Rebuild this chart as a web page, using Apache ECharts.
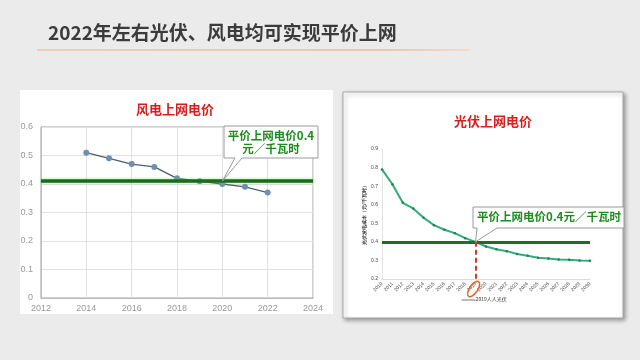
<!DOCTYPE html>
<html>
<head>
<meta charset="utf-8">
<script src="https://cdn.jsdelivr.net/npm/echarts@6/dist/echarts.min.js"></script>
<style>
  html, body { margin: 0; padding: 0; background: #ebebeb; }
  #main { width: 640px; height: 360px; }
</style>
</head>
<body>
<div id="main"></div>
<script>
// wind power on-grid price (left)
const windYears = [2014, 2015, 2016, 2017, 2018, 2019, 2020, 2021, 2022];
const windPrice = [0.51, 0.49, 0.47, 0.46, 0.42, 0.41, 0.40, 0.39, 0.37];
const windParity = 0.41;
const windXTicks = { min: 2012, max: 2024, step: 2 };
const windYTicks = { min: 0, max: 0.6, step: 0.1 };

// PV on-grid price (right)
const pvYears = ["2010", "2011", "2012", "2013", "2014", "2015", "2016", "2017", "2018", "2019", "2020",
  "2021", "2022", "2023", "2024", "2025", "2026", "2027", "2028", "2029", "2030"];
const pvPrice = [0.79, 0.71, 0.61, 0.58, 0.53, 0.49, 0.465, 0.447, 0.42, 0.40, 0.375,
  0.36, 0.35, 0.335, 0.325, 0.315, 0.31, 0.305, 0.303, 0.30, 0.298];
const pvParity = 0.4;
const pvParityYear = "2019";
const pvYTicks = { min: 0.2, max: 0.9, step: 0.1 };

const mainTitle = "2022年左右光伏、风电均可实现平价上网";
const windTitle = "风电上网电价";
const pvTitle = "光伏上网电价";
const pvAxisName = "光伏发电成本（元/千瓦时）";
const windNote = "平价上网电价0.4\n元／千瓦时";
const pvNote = "平价上网电价0.4元／千瓦时";
const pvMarkNote = "2019人人光伏";

const font = '"Noto Sans CJK SC", "Liberation Sans", sans-serif';
const chart = echarts.init(document.getElementById("main"));

const option = {
  backgroundColor: "#ebebeb",
  animation: false,
  title: [
    { text: mainTitle, left: 43, top: 18,
      textStyle: { fontFamily: font, fontSize: 19, fontWeight: "bold", color: "#3b3b3b" } },
    { text: windTitle, left: 170, top: 98, textAlign: "center",
      textStyle: { fontFamily: font, fontSize: 13, fontWeight: "bold", color: "#d81e1e" } },
    { text: pvTitle, left: 488, top: 110, textAlign: "center",
      textStyle: { fontFamily: font, fontSize: 13, fontWeight: "bold", color: "#d81e1e" } }
  ],
  grid: [
    { left: 41, right: 327, top: 127, bottom: 62, show: true, borderColor: "#9aa89a", borderWidth: 1 },
    { left: 382, right: 50, top: 149, bottom: 81 }
  ],
  xAxis: [
    { type: "value", gridIndex: 0, min: windXTicks.min, max: windXTicks.max, interval: windXTicks.step,
      axisLine: { lineStyle: { color: "#bbb" } }, axisTick: { show: false },
      axisLabel: { color: "#999", fontSize: 9, margin: 6, fontFamily: "Liberation Sans",
        formatter: (v) => String(v) },
      splitLine: { show: true, lineStyle: { color: "#e2e2e2" } } },
    { type: "category", gridIndex: 1, data: pvYears, boundaryGap: false,
      axisLine: { lineStyle: { color: "#ddd" } }, axisTick: { show: false },
      axisLabel: { color: "#444", fontSize: 5, rotate: 45, interval: 0, margin: 4 },
      splitLine: { show: false } }
  ],
  yAxis: [
    { type: "value", gridIndex: 0, min: windYTicks.min, max: windYTicks.max, interval: windYTicks.step,
      axisLine: { show: true, lineStyle: { color: "#bbb" } }, axisTick: { show: false },
      axisLabel: { color: "#999", fontSize: 9, margin: 8, fontFamily: "Liberation Sans" },
      splitLine: { show: true, lineStyle: { color: "#e2e2e2" } } },
    { type: "value", gridIndex: 1, min: pvYTicks.min, max: pvYTicks.max, interval: pvYTicks.step,
      name: pvAxisName, nameLocation: "middle", nameGap: 12, nameRotate: 90,
      nameTextStyle: { fontSize: 5, color: "#333", fontWeight: "bold" },
      axisLine: { show: true, lineStyle: { color: "#e4e4e4" } }, axisTick: { show: false },
      axisLabel: { color: "#444", fontSize: 5, margin: 4 },
      splitLine: { show: false } }
  ],
  series: [
    {
      name: windTitle, type: "line", xAxisIndex: 0, yAxisIndex: 0,
      data: windYears.map((y, i) => [y, windPrice[i]]),
      symbol: "circle", symbolSize: 6,
      itemStyle: { color: "#6f8fb0" },
      lineStyle: { color: "#4d5e70", width: 1.3 },
      z: 3,
      markLine: {
        silent: true, symbol: "none", label: { show: false },
        lineStyle: { color: "#1d6a1d", width: 3.5, type: "solid",
          shadowColor: "rgba(80,220,80,0.7)", shadowBlur: 3 },
        data: [{ yAxis: windParity }]
      }
    },
    {
      name: pvTitle, type: "line", xAxisIndex: 1, yAxisIndex: 1,
      data: pvPrice,
      symbol: "circle", symbolSize: 2.5,
      itemStyle: { color: "#2b7a5c" },
      lineStyle: { color: "#2fae7a", width: 2 },
      z: 3,
      markLine: {
        silent: true, symbol: "none", label: { show: false },
        data: [
          [{ coord: [0, pvParity], lineStyle: { color: "#1f6f1f", width: 3, type: "solid" } },
           { coord: [pvYears.length - 1, pvParity] }],
          [{ coord: [pvParityYear, pvParity], lineStyle: { color: "#c9402a", width: 2, type: [5, 3] } },
           { coord: [pvParityYear, pvYTicks.min] }]
        ]
      }
    }
  ],
  graphic: [
    { id: "panelL", type: "rect", z: -10, shape: { x: 20, y: 90, width: 313, height: 224 },
      style: { fill: "#fff" } },
    { id: "panelR", type: "rect", z: -10, shape: { x: 343, y: 92, width: 280, height: 226 },
      style: { fill: "#fff", stroke: "#a8a8a8", lineWidth: 1,
        shadowBlur: 4, shadowColor: "rgba(0,0,0,0.35)", shadowOffsetX: 2, shadowOffsetY: 2 } },
    { id: "rule", type: "line", z: -5, shape: { x1: 37, y1: 50, x2: 470, y2: 50 },
      style: { lineWidth: 1.5, stroke: new echarts.graphic.LinearGradient(0, 0, 1, 0, [
        { offset: 0, color: "#f2c2ac" }, { offset: 0.8, color: "#f0b79c" }, { offset: 1, color: "#f5d6c6" }]) } }
  ]
};
chart.setOption(option);

// callouts pointing at data positions
function callout(id, box, tip, gapA, gapB) {
  const [x0, y0, x1, y1] = box;
  return {
    id, type: "polygon", z: 100,
    shape: { points: [[x0, y0], [x1, y0], [x1, y1], [gapB, y1], tip, [gapA, y1], [x0, y1]] },
    style: { fill: "#fff", stroke: "#999", lineWidth: 1 }
  };
}
const windTip = chart.convertToPixel({ xAxisIndex: 0, yAxisIndex: 0 }, [2020, windParity]);
const pvTip = chart.convertToPixel({ xAxisIndex: 1, yAxisIndex: 1 }, [pvParityYear, pvParity]);
const pvFoot = chart.convertToPixel({ xAxisIndex: 1, yAxisIndex: 1 }, [pvParityYear, pvYTicks.min]);

chart.setOption({
  graphic: [
    callout("calloutL", [224, 126, 318, 158], windTip, 235, 242),
    { id: "noteL", type: "text", z: 101, x: 271, y: 129,
      style: { text: windNote, fill: "#1f8a1f", font: "bold 11.5px " + font,
        align: "center", lineHeight: 13 } },
    callout("calloutR", [473, 207, 624, 228], pvTip, 477, 497),
    { id: "noteR", type: "text", z: 101, x: 549, y: 211,
      style: { text: pvNote, fill: "#1f8a1f", font: "bold 11.5px " + font, align: "center" } },
    { id: "ring", type: "ellipse", z: 101, rotation: -0.6, x: pvFoot[0] - 2, y: pvFoot[1] + 10,
      shape: { cx: 0, cy: 0, rx: 4, ry: 9 },
      style: { fill: "none", stroke: "#e2622c", lineWidth: 1.5 } },
    { id: "tick", type: "line", z: 101,
      shape: { x1: pvFoot[0] - 14, y1: pvFoot[1] + 21, x2: pvFoot[0], y2: pvFoot[1] + 21 },
      style: { stroke: "#555", lineWidth: 0.8 } },
    { id: "markNote", type: "text", z: 101, x: pvFoot[0], y: pvFoot[1] + 18,
      style: { text: pvMarkNote, fill: "#333", font: "5px " + font } }
  ]
});
</script>
</body>
</html>
